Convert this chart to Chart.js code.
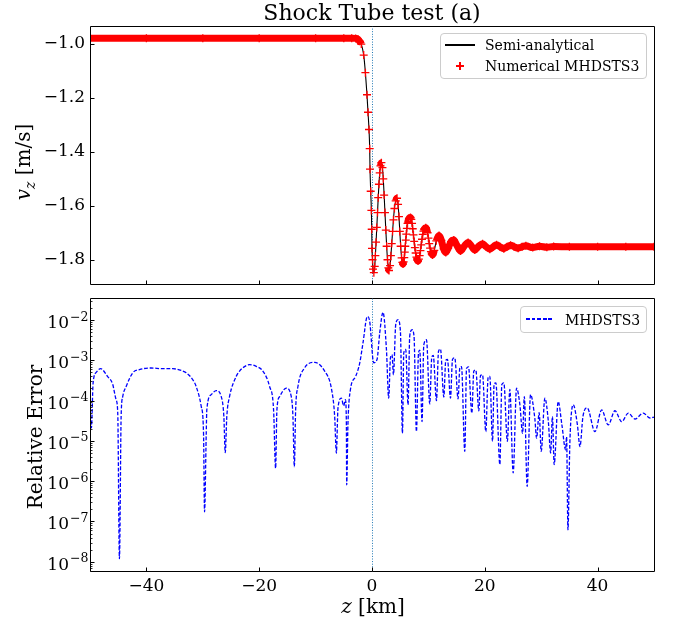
<!DOCTYPE html>
<html>
<head>
<meta charset="utf-8">
<title>Shock Tube test (a)</title>
<script src="https://cdn.jsdelivr.net/npm/chart.js@4.4.1/dist/chart.umd.min.js"></script>
<style>
  html, body { margin:0; padding:0; background:#ffffff; }
  #fig { position:relative; width:676px; height:625px; overflow:hidden; font-family:"DejaVu Serif", serif; color:#000; background:#fff; }
  #fig canvas { position:absolute; left:0; }
  .txt { position:absolute; white-space:nowrap; line-height:1; }
  .legend { position:absolute; border:1px solid #cccccc; border-radius:4px; background:rgba(255,255,255,0.8); box-sizing:border-box; }
  .bar { position:absolute; }
</style>
</head>
<body>
<div id="fig">
  <canvas id="topChart" width="676" height="300" style="top:0"></canvas>
  <canvas id="botChart" width="676" height="327" style="top:298px"></canvas>

  <div class="txt" style="left:90px;width:564px;top:13px;text-align:center;font-size:22px;transform:translateY(-50%)">Shock Tube test (a)</div>
  <div class="txt" style="left:25px;top:162px;font-size:20px;transform:translate(-50%,-50%) rotate(-90deg)"><i>v</i><sub style="font-size:14px"><i>z</i></sub> [m/s]</div>
  <div class="txt" style="left:34.5px;top:437px;font-size:20px;transform:translate(-50%,-50%) rotate(-90deg)">Relative Error</div>
  <div class="txt" style="left:373px;top:606px;font-size:20px;transform:translate(-50%,-50%)"><i>z</i> [km]</div>

  <div class="legend" style="left:440px;top:33px;width:207px;height:46px"></div>
  <div class="bar" style="left:445px;top:44.4px;width:30px;height:1.2px;background:#000"></div>
  <div class="txt" style="left:485px;top:45px;font-size:14px;transform:translateY(-50%)">Semi-analytical</div>
  <div class="bar" style="left:456px;top:65.4px;width:8px;height:1.3px;background:#ff0000"></div>
  <div class="bar" style="left:459.35px;top:62px;width:1.3px;height:8px;background:#ff0000"></div>
  <div class="txt" style="left:485px;top:66px;font-size:14px;transform:translateY(-50%)">Numerical MHDSTS3</div>

  <div class="legend" style="left:520px;top:306px;width:127px;height:27px"></div>
  <div class="bar" style="left:526px;top:318.4px;width:28px;height:1.3px;background:repeating-linear-gradient(90deg,#0000ff 0 3.8px,transparent 3.8px 5.6px)"></div>
  <div class="txt" style="left:565px;top:319.5px;font-size:14px;transform:translateY(-50%)">MHDSTS3</div>
</div>
<script>
// ---------------- data ----------------
const zTop = [-50,-40,-30,-20,-10,-5,-3.6,-2.9,-2.5,-2.2,-1.9,-1.47,-1.17,-0.89,-0.71,-0.53,-0.41,-0.35,-0.23,-0.11,-0.05,0.0,0.09,0.18,0.33,
  0.48,0.6,0.72,0.85,0.98,1.1,1.23,1.37,1.5,1.67,1.85,2.0,2.15,2.3,2.45,2.6,2.75,2.9,3.02,3.2,3.35,3.5,3.65,3.8,3.98,4.2,
  4.44,4.62,4.78,4.93,5.08,5.25,5.38,5.5,5.61,5.72,5.81,5.9,5.99,6.08,6.18,6.3,6.55,6.82,6.97,7.1,7.22,7.35,7.48,7.6,7.74,7.88,8.02,8.16,
  8.31,8.45,8.59,8.72,8.86,9.0,9.13,9.27,9.53,9.85,10.0,10.15,10.3,10.45,10.6,10.72,
  11.05,11.4,11.89,12.3,12.7,13.08,13.5,14.0,14.5,15.0,15.69,16.35,17.04,17.6,18.23,18.9,19.6,20.25,20.89,21.5,22.08,22.7,23.38,
  23.95,24.56,25.2,25.91,26.6,27.28,28.5,29.7,31.0,32.2,35,40,45,50];
const vzSemiAnalytical = [-0.978,-0.978,-0.978,-0.978,-0.978,-0.978,-0.978,-0.979,-0.982,-0.990,-1.000,-1.041,-1.106,-1.188,-1.253,-1.317,-1.388,-1.464,-1.546,-1.617,-1.687,-1.758,-1.800,-1.835,-1.848,
  -1.825,-1.785,-1.735,-1.680,-1.625,-1.570,-1.520,-1.478,-1.452,-1.440,-1.458,-1.500,-1.560,-1.625,-1.690,-1.750,-1.800,-1.830,-1.840,-1.822,-1.785,-1.740,-1.695,-1.652,-1.610,-1.582,
  -1.572,-1.595,-1.640,-1.695,-1.750,-1.793,-1.810,-1.816,-1.808,-1.792,-1.772,-1.750,-1.727,-1.705,-1.684,-1.665,-1.647,-1.643,-1.650,-1.665,-1.685,-1.708,-1.732,-1.755,-1.775,-1.790,-1.801,-1.805,
  -1.798,-1.785,-1.766,-1.745,-1.724,-1.706,-1.694,-1.686,-1.681,-1.700,-1.720,-1.740,-1.757,-1.770,-1.779,-1.782,
  -1.765,-1.730,-1.710,-1.728,-1.760,-1.773,-1.758,-1.733,-1.727,-1.745,-1.768,-1.750,-1.736,-1.748,-1.764,-1.750,-1.741,-1.752,-1.761,-1.752,-1.744,-1.752,-1.759,
  -1.752,-1.746,-1.752,-1.757,-1.752,-1.748,-1.755,-1.750,-1.754,-1.751,-1.752,-1.752,-1.752,-1.752];
// numerical solution coincides with the semi-analytical curve at plot resolution
const vzNumerical = vzSemiAnalytical;

const zErr = [-50,-49.75,-49.45,-48.9,-48.1,-46.9,-46.0,-45.37,-45.08,-44.78,-44.48,-44.2,-43.59,-42.42,-41.23,-39.16,-37.1,-35.32,-33.83,-32.94,-31.77,-31.17,-30.28,-29.87,-29.69,-29.39,-29.29,
  -28.5,-27.62,-26.73,-26.27,-26.02,-25.74,-25.26,-24.07,-23.48,-22.6,-21.71,-20.52,-19.35,-18.16,-17.45,-17.09,-16.86,-16.38,-15.19,-14.31,-14.02,-13.77,-13.54,-13.13,-11.95,-10.17,
  -8.4,-7.21,-6.62,-6.32,-6.03,-5.43,-5.02,-4.72,-4.54,-4.49,-4.26,-3.83,-2.89,-2.18,-1.6,-0.82,-0.41,0.3,0.89,1.37,1.95,2.56,2.96,3.27,3.55,3.8,4.21,4.61,5.04,5.4,5.63,5.98,
  6.39,6.69,7.1,7.45,7.88,8.24,8.47,8.87,9.18,9.66,10.24,10.6,10.86,11.43,11.79,12.14,12.73,13.08,13.38,13.92,14.27,14.68,15.26,15.57,15.87,16.45,16.76,17.11,17.7,18.05,18.41,
  18.94,19.24,19.6,20.18,20.59,20.89,21.37,21.65,21.96,22.67,23.02,23.38,24.0,24.44,25.03,25.63,26.22,26.7,27.01,27.51,28.11,28.88,29.18,29.64,30.0,30.65,31.27,31.67,31.99,
  32.3,33.01,33.67,34.33,34.5,34.74,35.09,35.68,36.42,36.87,37.4,38.16,39.53,40.72,41.89,43.08,44.27,45.44,46.63,48.1,49.29,50];
const relErr = [6.0e-5,2.1e-5,2.75e-4,5.0e-4,6.2e-4,4.0e-4,2.6e-4,1.05e-4,4.9e-5,1.2e-8,4.1e-5,1.26e-4,2.24e-4,4.9e-4,5.9e-4,6.46e-4,6.2e-4,6.2e-4,5.6e-4,4.9e-4,3.3e-4,2.24e-4,7.2e-5,1.55e-5,1.74e-7,1.55e-5,5.9e-5,
  1.41e-4,1.78e-4,1.26e-4,4.1e-5,5.1e-6,4.1e-5,1.26e-4,4.0e-4,5.4e-4,7.0e-4,7.8e-4,7.1e-4,5.4e-4,2.24e-4,5.9e-5,2.1e-6,5.9e-5,1.26e-4,2.04e-4,1.26e-4,4.1e-5,2.3e-6,5.9e-5,2.24e-4,6.5e-4,8.9e-4,
  5.4e-4,2.04e-4,4.1e-5,5.0e-6,6.6e-5,1.15e-4,7.4e-5,1.05e-4,2.5e-5,8.1e-7,2.75e-5,1.86e-4,4.0e-4,8.5e-4,2.7e-3,1.23e-2,9.3e-3,8.7e-4,1.05e-3,4.8e-3,1.55e-2,1.86e-3,1.15e-4,1.15e-3,1.38e-3,4.4e-4,7.8e-3,1.02e-2,5.2e-3,1.55e-5,1.51e-3,1.86e-3,
  7.9e-5,4.0e-3,5.75e-3,4.0e-3,1.7e-5,1.51e-3,1.8e-3,3.0e-5,2.4e-3,3.24e-3,8.3e-5,1.2e-3,1.32e-3,1.0e-4,1.66e-3,1.91e-3,1.23e-4,1.0e-3,1.05e-3,1.15e-4,1.05e-3,1.15e-3,1.1e-4,6.5e-4,7.0e-4,5.5e-6,6.3e-4,6.9e-4,4.9e-5,5.4e-4,5.75e-4,
  5.6e-5,4.2e-4,4.37e-4,1.7e-5,3.8e-4,4.0e-4,9.8e-6,2.6e-4,2.75e-4,2.6e-6,2.5e-4,2.75e-4,9.8e-6,1.9e-4,1.6e-6,2.04e-4,7.9e-5,1.55e-5,1.26e-4,7.4e-7,1.41e-4,3.5e-5,1.17e-5,5.0e-5,5.5e-6,1.15e-4,3.0e-5,5.0e-6,4.0e-5,
  2.6e-6,9.5e-5,2.5e-5,6.0e-6,1.26e-5,6.2e-8,1.0e-5,7.9e-5,2.5e-5,7.2e-6,4.0e-5,6.6e-5,1.7e-5,5.9e-5,2.5e-5,5.6e-5,3.0e-5,4.9e-5,3.5e-5,4.9e-5,3.7e-5,3.9e-5];

const zTicks = [-40, -20, 0, 20, 40];
const vzTicks = [-1.8, -1.6, -1.4, -1.2, -1.0];
const errDecades = [-8, -7, -6, -5, -4, -3, -2];
const shockZ = 0;

// ---------------- helpers ----------------
Chart.defaults.font.family = 'DejaVu Serif';
Chart.defaults.color = '#000';
const pts = (xs, ys) => xs.map((x, i) => ({ x: x, y: ys[i] }));
const withMinus = s => String(s).replace('-', '\u2212');

function decor(o) {
  return {
    id: 'decor',
    beforeDatasetsDraw(chart) {
      const ctx = chart.ctx, a = chart.chartArea, x = chart.scales.x;
      const px = Math.round(x.getPixelForValue(shockZ)) + 0.5;
      ctx.save();
      ctx.strokeStyle = '#1f77b4'; ctx.lineWidth = 1; ctx.setLineDash([1, 1.6]);
      ctx.beginPath(); ctx.moveTo(px, a.top); ctx.lineTo(px, a.bottom); ctx.stroke();
      ctx.restore();
    },
    afterDraw(chart) {
      const ctx = chart.ctx, a = chart.chartArea, x = chart.scales.x, y = chart.scales.y;
      const L = Math.floor(a.left) + 0.5, R = Math.floor(a.right) + 0.5, T = Math.floor(a.top) + 0.5, B = Math.floor(a.bottom) + 0.5;
      ctx.save();
      ctx.strokeStyle = '#000'; ctx.lineWidth = 1; ctx.setLineDash([]);
      ctx.beginPath();
      ctx.moveTo(L, T); ctx.lineTo(R, T); ctx.lineTo(R, B); ctx.lineTo(L, B); ctx.closePath();
      zTicks.forEach(v => { const p = Math.round(x.getPixelForValue(v)) + 0.5; ctx.moveTo(p, B); ctx.lineTo(p, B - 4); });
      o.yMajor.forEach(v => { const p = Math.round(y.getPixelForValue(v)) + 0.5; ctx.moveTo(L, p); ctx.lineTo(L + 4, p); });
      ctx.stroke();
      if (o.log) {
        ctx.beginPath();
        for (let n = -9; n <= -1; n++) {
          for (let k = 2; k <= 9; k++) {
            const v = k * Math.pow(10, n);
            if (v < y.min || v > y.max) continue;
            const p = Math.round(y.getPixelForValue(v)) + 0.5;
            ctx.moveTo(L, p); ctx.lineTo(L + 2, p);
          }
        }
        ctx.lineWidth = 0.8; ctx.stroke();
        ctx.fillStyle = '#000'; ctx.textBaseline = 'alphabetic';
        errDecades.forEach(e => {
          const p = y.getPixelForValue(Math.pow(10, e));
          ctx.textAlign = 'right'; ctx.font = '17px "DejaVu Serif"';
          ctx.fillText('10', 69, p + 8);
          ctx.textAlign = 'left'; ctx.font = '12.5px "DejaVu Serif"';
          ctx.fillText('\u2212' + Math.abs(e), 70, p + 0.5);
        });
      }
      ctx.restore();
    }
  };
}

const tickFont = { family: 'DejaVu Serif', size: 17 };

// ---------------- top panel ----------------
new Chart(document.getElementById('topChart'), {
  type: 'line',
  data: {
    datasets: [
      {
        label: 'Numerical MHDSTS3',
        data: pts(zTop, vzNumerical),
        borderColor: '#ff0000', borderWidth: 7,
        cubicInterpolationMode: 'monotone',
        pointStyle: 'cross', pointRadius: 4, pointBorderWidth: 1.3,
        pointBorderColor: '#ff0000', pointBackgroundColor: '#ff0000',
        segment: {
          borderColor: c => (Math.abs(c.p1.y - c.p0.y) > 4 * Math.abs(c.p1.x - c.p0.x)) ? 'rgba(255,0,0,0)' : '#ff0000'
        }
      },
      {
        label: 'Semi-analytical',
        data: pts(zTop, vzSemiAnalytical),
        borderColor: '#000000', borderWidth: 1.1, pointRadius: 0,
        cubicInterpolationMode: 'monotone'
      }
    ]
  },
  options: {
    responsive: false, animation: false, events: [],
    layout: { padding: { top: 26, bottom: 1.5, left: 0, right: 22 } },
    plugins: { legend: { display: false }, tooltip: { enabled: false }, title: { display: false } },
    scales: {
      x: { type: 'linear', display: false, min: -50, max: 50 },
      y: {
        type: 'linear', min: -1.893, max: -0.933,
        afterFit(s) { s.width = 90; },
        afterBuildTicks(s) { s.ticks = vzTicks.map(v => ({ value: v })); },
        grid: { display: false, drawTicks: false }, border: { display: false },
        ticks: { font: tickFont, color: '#000', padding: 5, callback: v => withMinus(Number(v).toFixed(1)) }
      }
    }
  },
  plugins: [decor({ yMajor: vzTicks, log: false })]
});

// ---------------- bottom panel ----------------
new Chart(document.getElementById('botChart'), {
  type: 'line',
  data: {
    datasets: [{
      label: 'MHDSTS3',
      data: pts(zErr, relErr),
      borderColor: '#0000ff', borderWidth: 1.3, borderDash: [3.8, 1.8],
      pointRadius: 0, cubicInterpolationMode: 'monotone', fill: false
    }]
  },
  options: {
    responsive: false, animation: false, events: [],
    layout: { padding: { top: 0.5, bottom: 0, left: 0, right: 22 } },
    plugins: { legend: { display: false }, tooltip: { enabled: false }, title: { display: false } },
    scales: {
      x: {
        type: 'linear', min: -50, max: 50,
        afterFit(s) { s.height = 53.2; },
        afterBuildTicks(s) { s.ticks = zTicks.map(v => ({ value: v })); },
        grid: { display: false, drawTicks: false }, border: { display: false },
        ticks: { font: tickFont, color: '#000', padding: 5, maxRotation: 0, autoSkip: false, callback: v => withMinus(v) }
      },
      y: {
        type: 'logarithmic', min: Math.pow(10, -8.249), max: Math.pow(10, -1.465),
        afterFit(s) { s.width = 90; },
        grid: { display: false, drawTicks: false }, border: { display: false },
        ticks: { display: false }
      }
    }
  },
  plugins: [decor({ yMajor: errDecades.map(e => Math.pow(10, e)), log: true })]
});
</script>
</body>
</html>
